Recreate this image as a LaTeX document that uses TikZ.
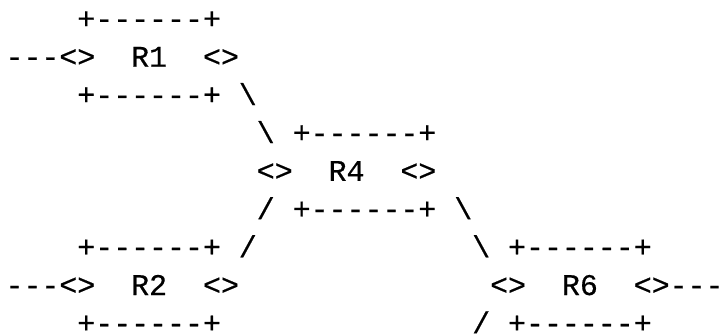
\documentclass[tikz,border=0pt]{standalone}
\usepackage{fontspec}
\newfontfamily\asciifont[FakeBold=0.5]{Liberation Mono}
% every character sits in a fixed-width cell of the text grid
\newlength\cellw
\setlength\cellw{17.95pt}
\newcommand\cellbox[1]{\makebox[\cellw][c]{#1}}
\makeatletter
\def\cells@loop#1{\ifx#1\relax\else\cellbox{#1}\expandafter\cells@loop\fi}
\newcommand\cells[1]{\cells@loop#1\relax}
\makeatother
\begin{document}
\begin{tikzpicture}[
  ascii/.style={font=\asciifont\fontsize{30}{30}\selectfont,
    text=black, inner sep=0pt, outer sep=0pt, text depth=0pt,
    anchor=base west}]
\useasboundingbox (0pt,0pt) rectangle (725pt,-335pt);
% grid: x = column, y = text row (row 1 at the top)
\begin{scope}[x=17.95pt, y=-38.05pt, shift={(5.5pt,9.4pt)}]
  % R1
  \node[ascii] (r1top)   at (4,1)  {\cells{+------+}};
  \node[ascii] (r1in)    at (0,2)  {\cells{---<>}};
  \node[ascii] (r1name)  at (7,2)  {\cells{R1}};
  \node[ascii] (r1out)   at (11,2) {\cells{<>}};
  \node[ascii] (r1bot)   at (4,3)  {\cells{+------+}};
  \node[ascii] (l14a)    at (13,3) {\cellbox{\textbackslash}};
  % R4
  \node[ascii] (l14b)    at (14,4) {\cellbox{\textbackslash}};
  \node[ascii] (r4top)   at (16,4) {\cells{+------+}};
  \node[ascii] (r4in)    at (14,5) {\cells{<>}};
  \node[ascii] (r4name)  at (18,5) {\cells{R4}};
  \node[ascii] (r4out)   at (22,5) {\cells{<>}};
  \node[ascii] (l24b)    at (14,6) {\cellbox{/}};
  \node[ascii] (r4bot)   at (16,6) {\cells{+------+}};
  \node[ascii] (l46a)    at (25,6) {\cellbox{\textbackslash}};
  % R2 and R6
  \node[ascii] (r2top)   at (4,7)  {\cells{+------+}};
  \node[ascii] (l24a)    at (13,7) {\cellbox{/}};
  \node[ascii] (l46b)    at (26,7) {\cellbox{\textbackslash}};
  \node[ascii] (r6top)   at (28,7) {\cells{+------+}};
  \node[ascii] (r2in)    at (0,8)  {\cells{---<>}};
  \node[ascii] (r2name)  at (7,8)  {\cells{R2}};
  \node[ascii] (r2out)   at (11,8) {\cells{<>}};
  \node[ascii] (r6in)    at (27,8) {\cells{<>}};
  \node[ascii] (r6name)  at (31,8) {\cells{R6}};
  \node[ascii] (r6out)   at (35,8) {\cells{<>---}};
  \node[ascii] (r2bot)   at (4,9)  {\cells{+------+}};
  \node[ascii] (l6low)   at (26,9) {\cellbox{/}};
  \node[ascii] (r6bot)   at (28,9) {\cells{+------+}};
\end{scope}
\end{tikzpicture}
\end{document}
